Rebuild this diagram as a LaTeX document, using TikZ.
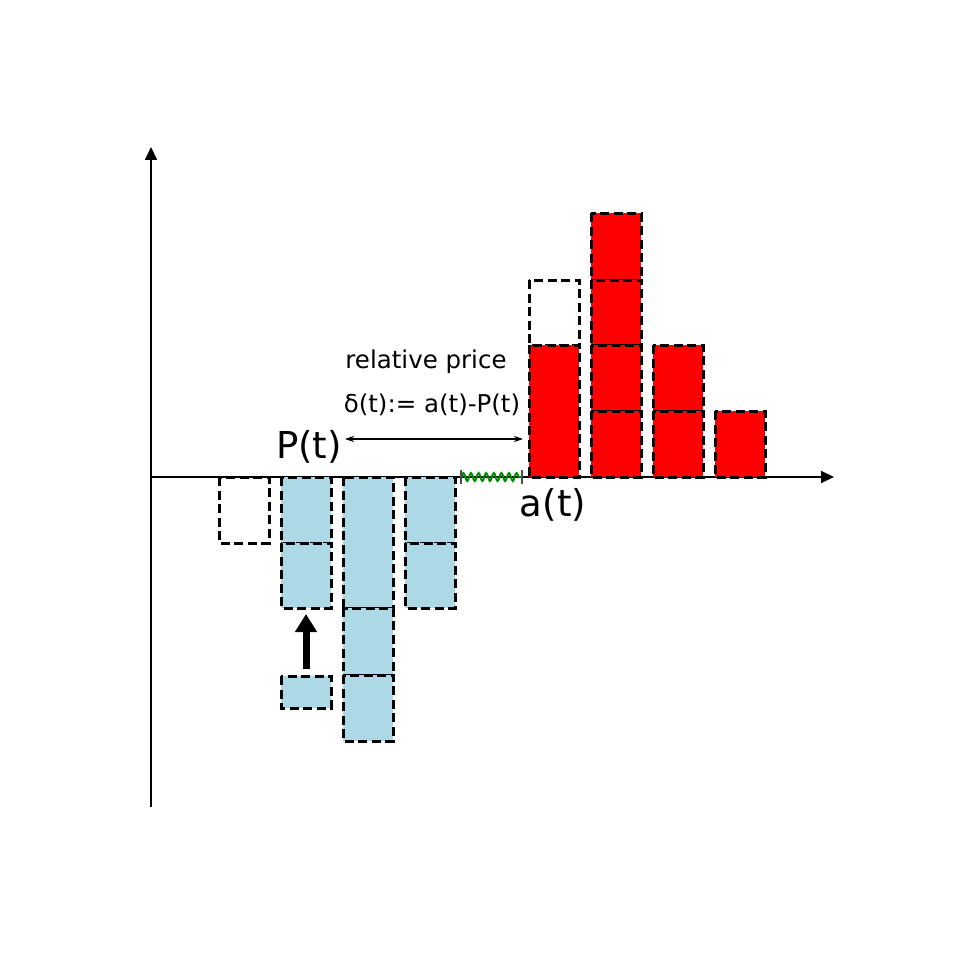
\documentclass[tikz,border=0pt]{standalone}
\usepackage{fontspec}
\setmainfont{DejaVu Sans}
\usetikzlibrary{arrows.meta,decorations.pathmorphing}
\begin{document}
\begin{tikzpicture}[x=1pt,y=-1pt,
  cellbox/.style={draw=black,line width=3pt,dash pattern=on 9pt off 4.5pt},
  bidcell/.style={cellbox,fill={rgb,255:red,173;green,216;blue,230}},
  askcell/.style={cellbox,fill=red},
  emptycell/.style={cellbox,fill=none},
  axis/.style={line width=2pt,-{Triangle[length=13pt,width=12pt]}},
  lbl/.style={inner sep=0pt,anchor=base}]
\useasboundingbox (0,0) rectangle (960,960);
% axes
\coordinate (O) at (151,477);
\coordinate (Ytop) at (151,147);
\coordinate (Ybot) at (151,807);
\coordinate (Xend) at (834,477);
\draw[axis] (Ybot) -- (Ytop);
\draw[axis] (O) -- (Xend);
% blue (bid) side
\draw[emptycell] (219,477) rectangle (269,543);
\draw[bidcell] (281,477) rectangle (331,543);
\draw[bidcell] (281,543) rectangle (331,608);
\draw[bidcell] (281,676) rectangle (331,708);
\draw[bidcell] (343,477) rectangle (393,608);
\draw[bidcell] (343,608) rectangle (393,675);
\draw[bidcell] (343,675) rectangle (393,741);
\draw[bidcell] (405,477) rectangle (455,543);
\draw[bidcell] (405,543) rectangle (455,608);
% up arrow
\coordinate (ua) at (306,669);
\coordinate (ub) at (306,614);
\draw[line width=7pt,-{Triangle[length=18pt,width=21pt]}] (ua) -- (ub);
% red (ask) side
\draw[emptycell] (529,280) rectangle (579,345);
\draw[askcell] (529,345) rectangle (579,477);
\draw[askcell] (591,213) rectangle (641,280);
\draw[askcell] (591,280) rectangle (641,345);
\draw[askcell] (591,345) rectangle (641,411);
\draw[askcell] (591,411) rectangle (641,477);
\draw[askcell] (653,345) rectangle (703,411);
\draw[askcell] (653,411) rectangle (703,477);
\draw[askcell] (715,411) rectangle (765,477);
% spread (green wave)
\coordinate (g1) at (461,477);
\coordinate (g2) at (522,477);
\draw[green!55!black,line width=2pt,decorate,decoration={snake,amplitude=4pt,segment length=7.6pt}] (g1) -- (g2);
\draw[line width=1.2pt,black!70] (461,470) -- (461,484) (522,470) -- (522,484);
% labels
\node[lbl,font=\fontsize{24.5}{28}\selectfont] (rp) at (426,368) {relative price};
\node[lbl,font=\fontsize{24.5}{28}\selectfont] (dl) at (432,412) {δ(t):= a(t)-P(t)};
\node[lbl,font=\fontsize{37}{40}\selectfont] (P) at (309,458) {P(t)};
\node[lbl,font=\fontsize{37}{40}\selectfont] (a) at (553,516) {a(t)};
\coordinate (d1) at (345,439);
\coordinate (d2) at (523,439);
\draw[line width=1.1pt,{Stealth[length=9pt,width=6pt]}-{Stealth[length=9pt,width=6pt]}] (d1) -- (d2);
\end{tikzpicture}
\end{document}
